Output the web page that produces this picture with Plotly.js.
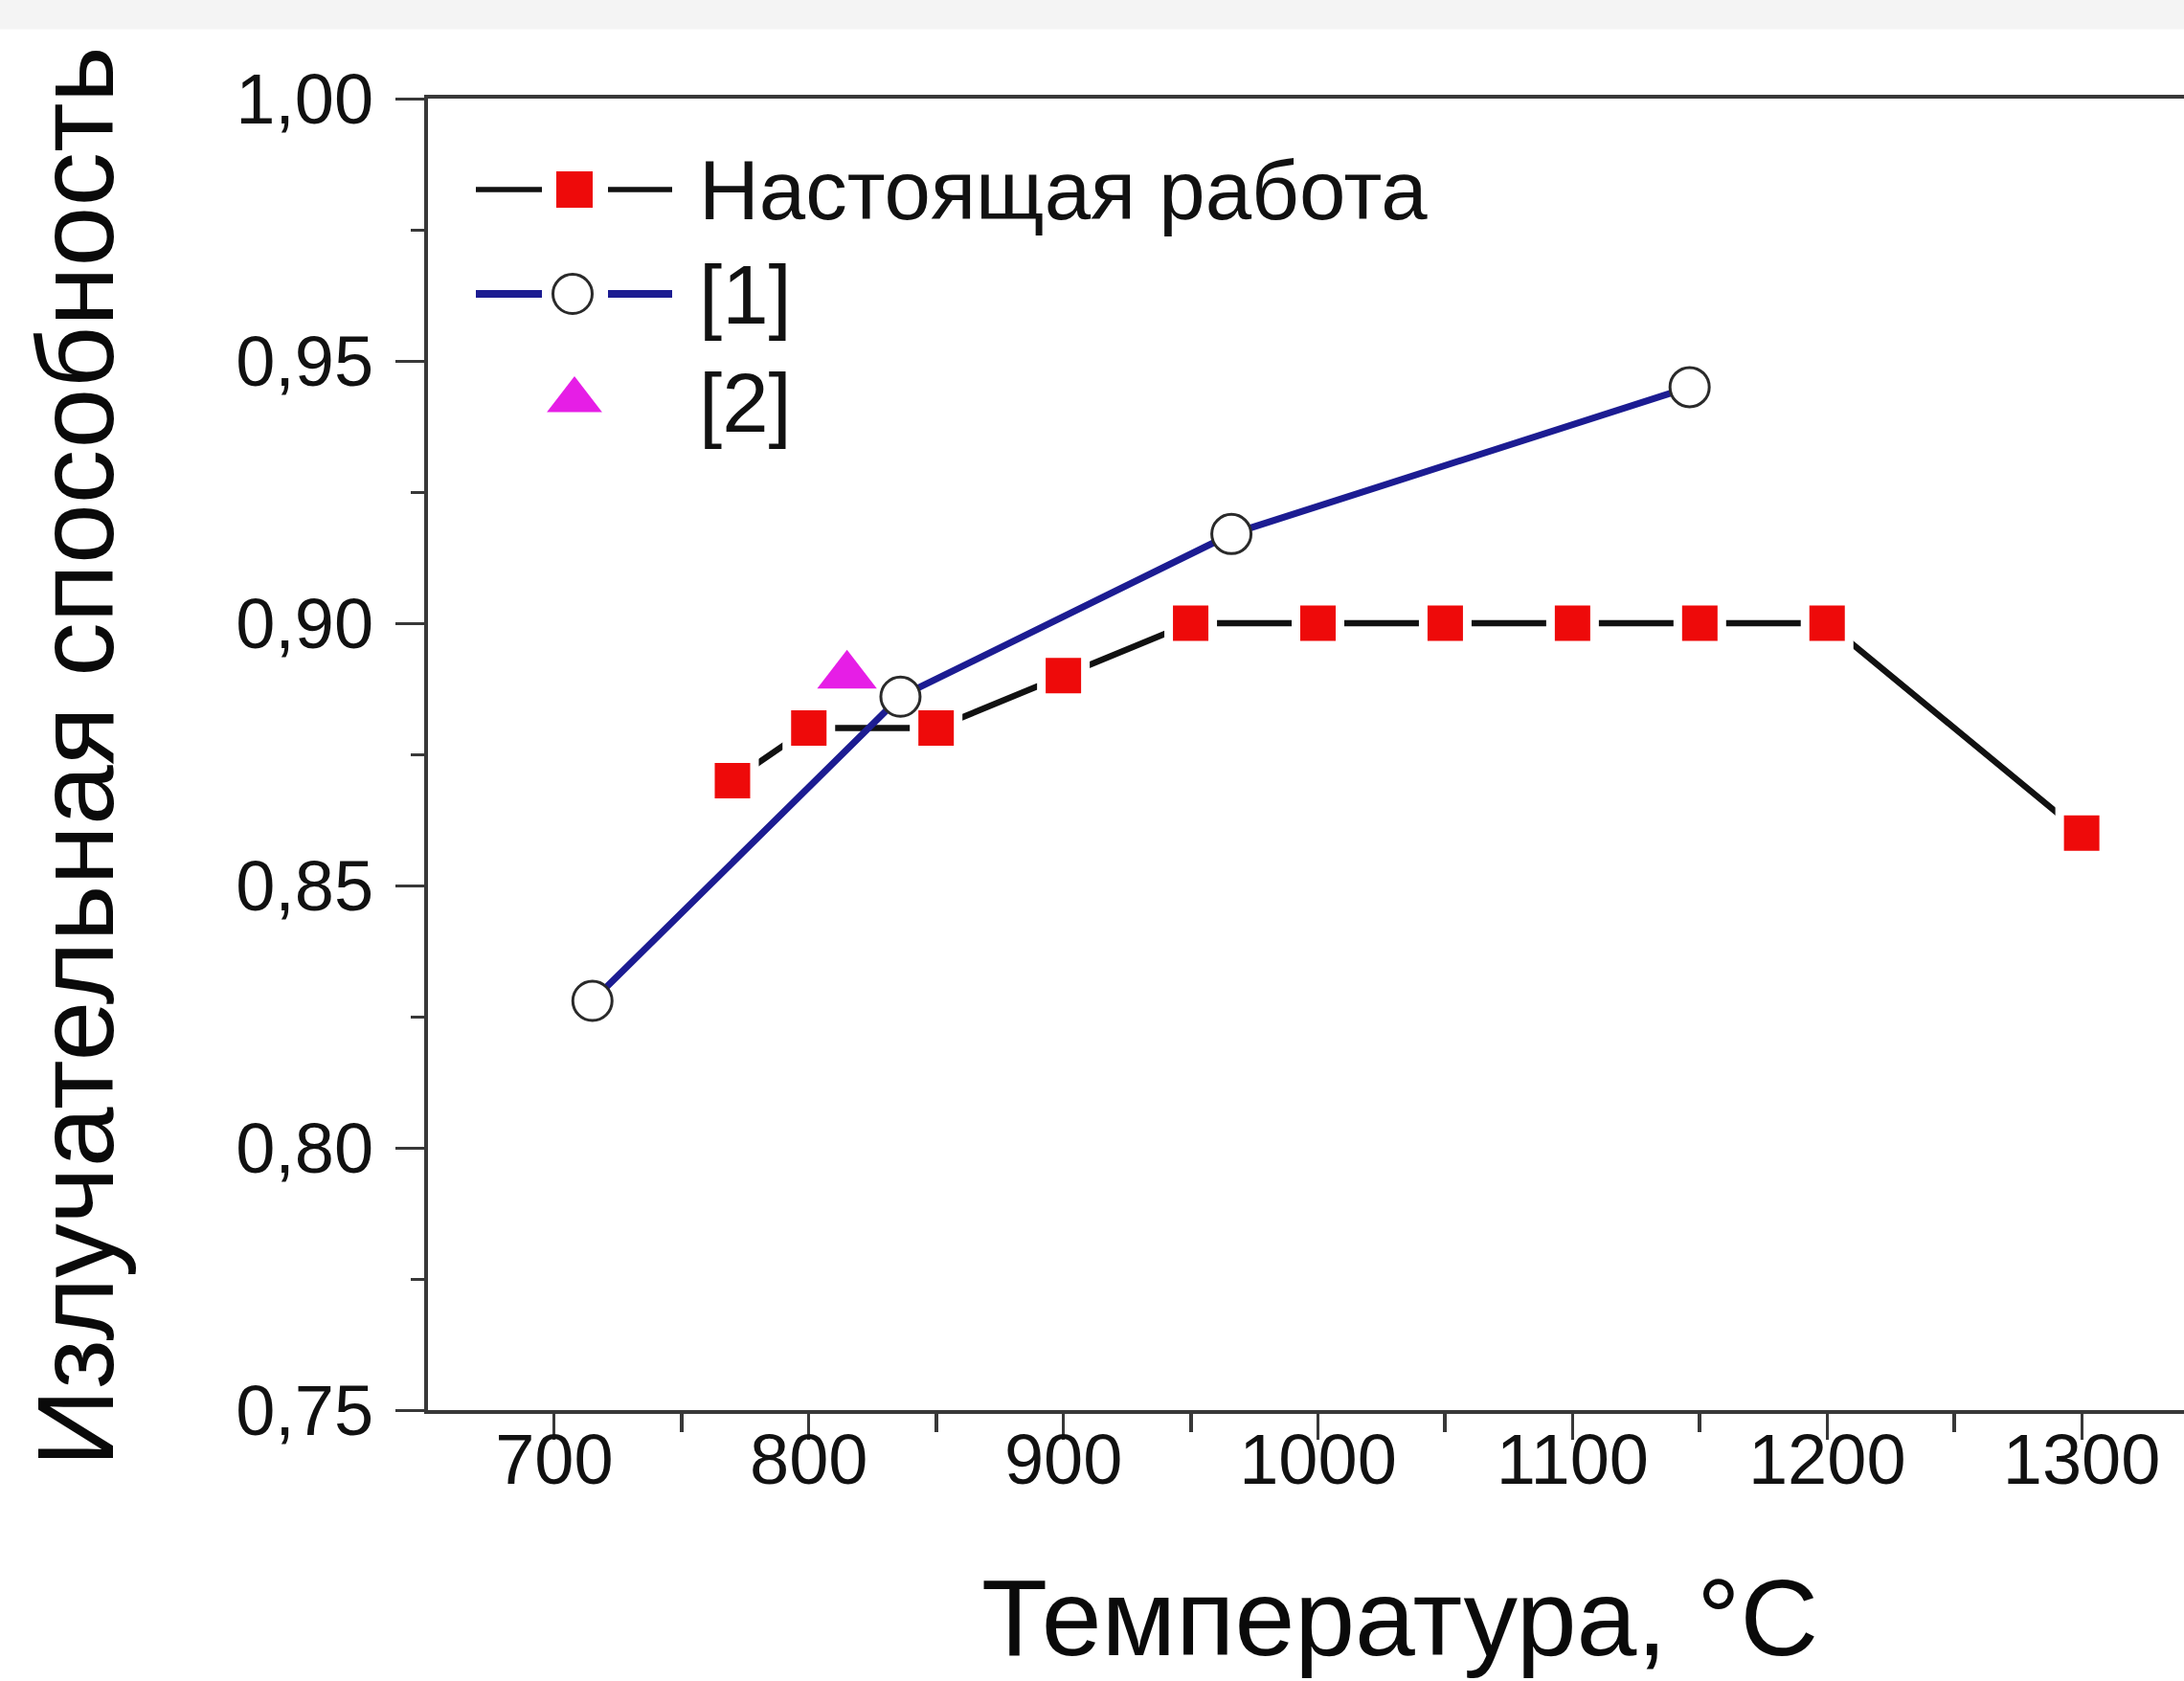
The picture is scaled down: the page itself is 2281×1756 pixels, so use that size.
<!DOCTYPE html>
<html>
<head>
<meta charset="utf-8">
<script src="https://cdn.plot.ly/plotly-3.0.1.min.js"></script>
<style>
  html, body { margin: 0; padding: 0; background: #ffffff; overflow: hidden; }
  #chart { width: 2281px; height: 1756px; }
</style>
</head>
<body>
<div id="chart"></div>
<script>
// ---- data ----
const seriesNames = ['Настоящая работа', '[1]', '[2]'];

const workTemp = [770, 800, 850, 900, 950, 1000, 1050, 1100, 1150, 1200, 1300];
const workEmis = [0.87, 0.88, 0.88, 0.89, 0.90, 0.90, 0.90, 0.90, 0.90, 0.90, 0.86];

const ref1Temp = [715, 836, 966, 1146];
const ref1Emis = [0.828, 0.886, 0.917, 0.945];

const ref2Temp = [815];
const ref2Emis = [0.89];

const xTickVals = [700, 800, 900, 1000, 1100, 1200, 1300];
const xTickText = ['700', '800', '900', '1000', '1100', '1200', '1300'];
const xMinorVals = [750, 850, 950, 1050, 1150, 1250];

const yTickVals = [0.75, 0.80, 0.85, 0.90, 0.95, 1.00];
const yTickText = ['0,75', '0,80', '0,85', '0,90', '0,95', '1,00'];
const yMinorVals = [0.775, 0.825, 0.875, 0.925, 0.975];

const xTitle = 'Температура, °C';
const yTitle = 'Излучательная способность';

// ---- styles ----
const FONT = 'Liberation Sans, Arial, Helvetica, sans-serif';
const RED = '#ee0a0a';
const BLUE = '#1c1c92';
const MAGENTA = '#e61ee6';
const AXIS = '#383838';

const squareMarker = { symbol: 'square', size: 46, color: RED, line: { color: '#ffffff', width: 9 } };
const circleMarker = { symbol: 'circle', size: 41, color: '#ffffff', line: { color: '#2a2a2a', width: 3 } };
const triMarker = { symbol: 'triangle-up', size: 54, color: MAGENTA, line: { width: 0 } };

// ---- data traces ----
const traces = [
  { x: workTemp, y: workEmis, type: 'scatter', mode: 'lines+markers', name: seriesNames[0],
    line: { color: '#111111', width: 6.5 }, marker: squareMarker, showlegend: false, hoverinfo: 'x+y' },
  { x: ref1Temp, y: ref1Emis, type: 'scatter', mode: 'lines+markers', name: seriesNames[1],
    line: { color: BLUE, width: 7 }, marker: circleMarker, showlegend: false, hoverinfo: 'x+y' },
  { x: ref2Temp, y: ref2Emis, type: 'scatter', mode: 'markers', name: seriesNames[2],
    marker: triMarker, showlegend: false, hoverinfo: 'x+y' }
];

// ---- custom legend drawn on a pixel-scaled overlay axis pair ----
const legRows = [198, 307, 418];
const legLineX = [497, 566, null, 635, 702];
const legMarkX = 600;
const legTextX = 728;
traces.push(
  { x: legLineX, y: legLineX.map(v => v === null ? null : legRows[0]), xaxis: 'x2', yaxis: 'y2',
    mode: 'lines', line: { color: '#111111', width: 5.5 }, showlegend: false, hoverinfo: 'skip' },
  { x: [legMarkX], y: [legRows[0]], xaxis: 'x2', yaxis: 'y2', mode: 'markers',
    marker: { symbol: 'square', size: 38, color: RED }, showlegend: false, hoverinfo: 'skip' },
  { x: legLineX, y: legLineX.map(v => v === null ? null : legRows[1]), xaxis: 'x2', yaxis: 'y2',
    mode: 'lines', line: { color: BLUE, width: 8 }, showlegend: false, hoverinfo: 'skip' },
  { x: [legMarkX - 2], y: [legRows[1]], xaxis: 'x2', yaxis: 'y2', mode: 'markers',
    marker: { symbol: 'circle', size: 41, color: '#ffffff', line: { color: '#2a2a2a', width: 3 } },
    showlegend: false, hoverinfo: 'skip' },
  { x: [legMarkX], y: [legRows[2]], xaxis: 'x2', yaxis: 'y2', mode: 'markers',
    marker: { symbol: 'triangle-up', size: 50, color: MAGENTA }, showlegend: false, hoverinfo: 'skip' }
);

const annotations = seriesNames.map((t, i) => ({
  text: t, xref: 'x2', yref: 'y2', x: legTextX, y: legRows[i] + (i === 2 ? 2 : 0), xanchor: 'left', yanchor: 'middle',
  showarrow: false, font: { family: FONT, size: 87, color: '#111111' }
}));

annotations.push({
  text: xTitle, xref: 'paper', yref: 'paper', x: 0.5537, y: -0.1584, xanchor: 'center', yanchor: 'middle',
  showarrow: false, font: { family: FONT, size: 113, color: '#0a0a0a' }
});
annotations.push({
  text: yTitle, xref: 'paper', yref: 'paper', x: -0.2005, y: 0.4985, xanchor: 'center', yanchor: 'middle',
  textangle: -90, showarrow: false, font: { family: FONT, size: 113, color: '#0a0a0a' }
});

const layout = {
  width: 2281, height: 1756,
  margin: { l: 447, r: 0, t: 103, b: 283, pad: 0 },
  paper_bgcolor: '#ffffff', plot_bgcolor: '#ffffff',
  showlegend: false,
  font: { family: FONT, color: '#111111' },
  xaxis: {
    range: [650.4, 1340.2], showgrid: false, zeroline: false,
    showline: true, linecolor: AXIS, linewidth: 4, mirror: true,
    tickmode: 'array', tickvals: xTickVals, ticktext: xTickText,
    ticks: 'outside', ticklen: 27, tickwidth: 3, tickcolor: AXIS,
    tickfont: { family: FONT, size: 74, color: '#111111' },
    ticklabelstandoff: -43,
    minor: { tickmode: 'array', tickvals: xMinorVals, ticks: 'outside', ticklen: 19, tickwidth: 4, tickcolor: AXIS, showgrid: false }
  },
  yaxis: {
    range: [0.75, 1.0], showgrid: false, zeroline: false,
    showline: true, linecolor: AXIS, linewidth: 4, mirror: false,
    tickmode: 'array', tickvals: yTickVals, ticktext: yTickText,
    ticks: 'outside', ticklen: 30, tickwidth: 3, tickcolor: AXIS,
    tickfont: { family: FONT, size: 74, color: '#111111' },
    ticklabelstandoff: 8,
    minor: { tickmode: 'array', tickvals: yMinorVals, ticks: 'outside', ticklen: 14, tickwidth: 3, tickcolor: AXIS, showgrid: false }
  },
  xaxis2: { overlaying: 'x', range: [447, 2281], visible: false, fixedrange: true },
  yaxis2: { overlaying: 'y', range: [1473, 103], visible: false, fixedrange: true },
  shapes: [
    { type: 'rect', xref: 'paper', yref: 'paper', x0: -0.3, x1: 1.0, y0: 1.053, y1: 1.08,
      fillcolor: '#f4f4f4', line: { width: 0 }, layer: 'below' }
  ],
  annotations: annotations
};

Plotly.newPlot('chart', traces, layout, { displayModeBar: false, staticPlot: true });
</script>
</body>
</html>
